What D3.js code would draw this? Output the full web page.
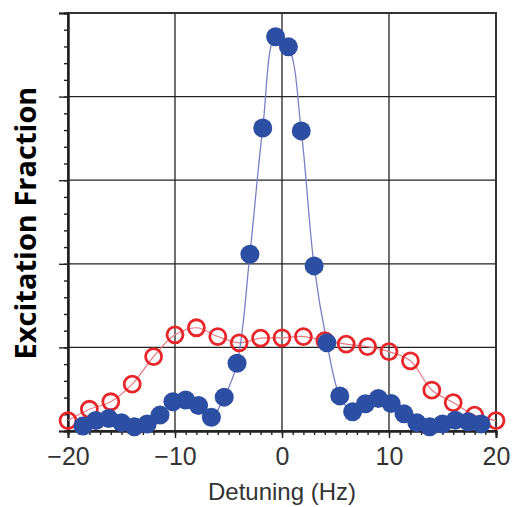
<!DOCTYPE html>
<html>
<head>
<meta charset="utf-8">
<script src="https://cdn.jsdelivr.net/npm/d3@7"></script>
<style>
  body { margin: 0; background: #fff; }
  svg { display: block; }
</style>
</head>
<body>
<svg></svg>
<script>
    const width = 512;
    const height = 507;

    // blue (filled) points: detuning in Hz, excitation fraction
    const blueX = [-18.6,-17.4,-16.2,-15.0,-13.8,-12.6,-11.4,-10.2,-9.0,-7.8,-6.6,-5.4,-4.2,-3.0,-1.8,-0.6,
                   0.6,1.8,3.0,4.2,5.4,6.6,7.8,9.0,10.2,11.4,12.6,13.8,15.0,16.2,17.4,18.6];
    const blueY = [0.012,0.025,0.030,0.020,0.010,0.017,0.038,0.070,0.074,0.061,0.033,0.081,0.162,0.423,0.725,0.943,
                   0.919,0.718,0.395,0.211,0.084,0.046,0.065,0.078,0.066,0.041,0.020,0.010,0.017,0.026,0.022,0.017];

    // red (open) points
    const redX = [-20,-18,-16,-14,-12,-10,-8,-6,-4,-2,0,2,4,6,8,10,12,14,16,18,20];
    const redY = [0.025,0.052,0.070,0.112,0.178,0.230,0.247,0.226,0.211,0.222,0.223,0.226,0.216,0.208,0.202,0.190,0.168,0.098,0.068,0.038,0.025];

    const xTicks = [-20,-10,0,10,20];
    const yTicks = [0,0.2,0.4,0.6,0.8,1.0];

    const margin = {top: 13, right: 16, bottom: 76, left: 68};

    const svg = d3.select('svg').attr('width', width).attr('height', height);

    const x = d3.scaleLinear().domain([-20, 20]).range([margin.left, width - margin.right]);
    const y = d3.scaleLinear().domain([0, 1]).range([height - margin.bottom, margin.top]);

    const g = svg.append('g');

    // grid
    g.selectAll('.vgrid').data(xTicks.slice(1, -1)).enter().append('line')
      .attr('x1', d => x(d)).attr('x2', d => x(d))
      .attr('y1', y(0)).attr('y2', y(1))
      .attr('stroke', '#222').attr('stroke-width', 1.3);
    g.selectAll('.hgrid').data(yTicks.slice(1, -1)).enter().append('line')
      .attr('x1', x(-20)).attr('x2', x(20))
      .attr('y1', d => y(d)).attr('y2', d => y(d))
      .attr('stroke', '#222').attr('stroke-width', 1.3);

    // frame
    g.append('rect')
      .attr('x', x(-20)).attr('y', y(1))
      .attr('width', x(20) - x(-20)).attr('height', y(0) - y(1))
      .attr('fill', 'none').attr('stroke', '#333').attr('stroke-width', 2);

    // x axis, major and minor ticks pointing down
    const xAxis = g.append('g').attr('transform', `translate(0,${y(0)})`);
    xAxis.call(d3.axisBottom(x).tickValues(d3.range(-20, 21, 1)).tickSize(4).tickFormat(''));
    xAxis.append('g').call(d3.axisBottom(x).tickValues(xTicks).tickSize(7)
      .tickFormat(d => d < 0 ? '\u2212' + Math.abs(d) : d));
    xAxis.selectAll('.domain').attr('stroke', '#222').attr('stroke-width', 2);
    xAxis.selectAll('line').attr('stroke', '#222').attr('stroke-width', 1.4);
    xAxis.selectAll('text')
      .attr('font-family', 'Liberation Sans, Arial, sans-serif')
      .attr('font-size', 25).attr('fill', '#333')
      .attr('y', 34).attr('dy', 0);

    // y axis, no labels
    const yAxis = g.append('g').attr('transform', `translate(${x(-20)},0)`);
    yAxis.call(d3.axisLeft(y).tickValues(d3.range(0, 1.0001, 0.04)).tickSize(4).tickFormat(''));
    yAxis.append('g').call(d3.axisLeft(y).tickValues(yTicks).tickSize(9).tickFormat(''));
    yAxis.selectAll('.domain').attr('stroke', '#222').attr('stroke-width', 2);
    yAxis.selectAll('line').attr('stroke', '#222').attr('stroke-width', 1.4);

    // axis titles
    svg.append('text')
      .attr('x', (x(-20) + x(20)) / 2 - 0).attr('y', 500)
      .attr('text-anchor', 'middle')
      .attr('font-family', 'Liberation Sans, Arial, sans-serif')
      .attr('font-size', 24).attr('fill', '#333')
      .text('Detuning (Hz)');
    svg.append('text')
      .attr('transform', 'translate(36,223) rotate(-90)')
      .attr('text-anchor', 'middle')
      .attr('font-family', 'Open Sans, sans-serif')
      .attr('font-weight', 'bold')
      .attr('font-size', 29).attr('fill', '#000')
      .text('Excitation Fraction');

    // curves
    const red = redX.map((d, i) => [d, redY[i]]);
    const blue = blueX.map((d, i) => [d, blueY[i]]);
    const line = d3.line().x(d => x(d[0])).y(d => y(d[1])).curve(d3.curveCatmullRom.alpha(0.5));

    g.append('path').datum(red).attr('d', line)
      .attr('fill', 'none').attr('stroke', '#e77a80').attr('stroke-width', 1.2);
    g.append('path').datum(blue).attr('d', line)
      .attr('fill', 'none').attr('stroke', '#7b80c4').attr('stroke-width', 1.3);

    g.selectAll('.red').data(red).enter().append('circle')
      .attr('cx', d => x(d[0])).attr('cy', d => y(d[1])).attr('r', 8)
      .attr('fill', 'none').attr('stroke', '#e8262a').attr('stroke-width', 2.8);

    g.selectAll('.blue').data(blue).enter().append('circle')
      .attr('cx', d => x(d[0])).attr('cy', d => y(d[1])).attr('r', 9.5)
      .attr('fill', '#2d4fa3');
</script>
</body>
</html>
